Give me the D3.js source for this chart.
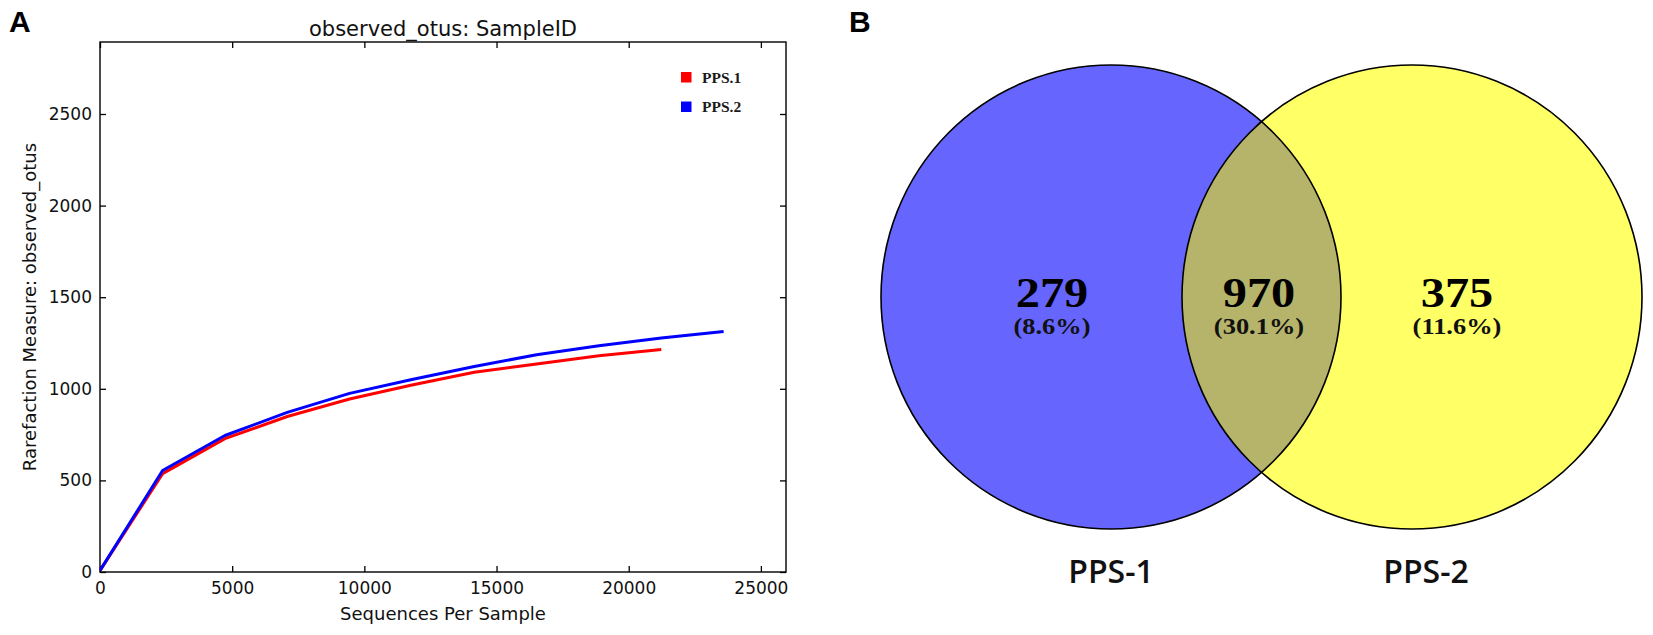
<!DOCTYPE html>
<html>
<head>
<meta charset="utf-8">
<script src="https://d3js.org/d3.v7.min.js"></script>
<style>
  body { margin: 0; background: #fff; }
  svg { display: block; }
</style>
</head>
<body>
<div id="viz"></div>
<script>

// rarefaction depths (sequences per sample)
var depths = [10, 2368, 4726, 7084, 9442, 11800, 14158, 16516, 18874, 21232, 23590];
// observed otus per sample
var pps1 = [10, 537, 728, 849, 944, 1021, 1090, 1135, 1181, 1215];
var pps2 = [10, 554, 745, 871, 975, 1051, 1122, 1186, 1235, 1277, 1313];
var seriesNames = ["PPS.1", "PPS.2"];
var seriesColors = ["#ff0000", "#0000ff"];
var xTicks = [0, 5000, 10000, 15000, 20000, 25000];
var yTicks = [0, 500, 1000, 1500, 2000, 2500];

// venn counts
var vennSets = ["PPS-1", "PPS-2"];
var vennCounts = [279, 970, 375];
var vennPercents = ["(8.6%)", "(30.1%)", "(11.6%)"];

var svg = d3.select("#viz")
    .append("svg")
    .attr("width", 1653)
    .attr("height", 635);

// ---------- panel A ----------
var m = {left: 100, top: 42, right: 786, bottom: 572};

var x = d3.scaleLinear().domain([0, 25950]).range([m.left, m.right]);
var y = d3.scaleLinear().domain([0, 2893]).range([m.bottom, m.top]);

var tickFont = "'DejaVu Sans', sans-serif";

var gx = svg.append("g")
    .attr("transform", "translate(0," + m.bottom + ")")
    .call(d3.axisBottom(x).tickValues(xTicks).tickSize(-6).tickPadding(10).tickFormat(d3.format("d")));
var gxTop = svg.append("g")
    .attr("transform", "translate(0," + m.top + ")")
    .call(d3.axisTop(x).tickValues(xTicks).tickSize(-6).tickFormat(""));
var gy = svg.append("g")
    .attr("transform", "translate(" + m.left + ",0)")
    .call(d3.axisLeft(y).tickValues(yTicks).tickSize(-6).tickPadding(8).tickFormat(d3.format("d")));
var gyRight = svg.append("g")
    .attr("transform", "translate(" + m.right + ",0)")
    .call(d3.axisRight(y).tickValues(yTicks).tickSize(-6).tickFormat(""));

[gx, gxTop, gy, gyRight].forEach(function(g){
    g.select(".domain").remove();
    g.selectAll(".tick line").attr("stroke", "#000").attr("stroke-width", 1.3);
    g.selectAll("text")
        .attr("fill", "#111")
        .style("font-family", tickFont)
        .style("font-size", "17px");
});

svg.append("rect")
    .attr("x", m.left)
    .attr("y", m.top)
    .attr("width", m.right - m.left)
    .attr("height", m.bottom - m.top)
    .attr("fill", "none")
    .attr("stroke", "#000")
    .attr("stroke-width", 1.4);

var line = d3.line()
    .x(function(d){ return x(d[0]); })
    .y(function(d){ return y(d[1]); });

[pps1, pps2].forEach(function(vals, i){
    var pts = vals.map(function(v, j){ return [depths[j], v]; });
    svg.append("path")
        .datum(pts)
        .attr("fill", "none")
        .attr("stroke", seriesColors[i])
        .attr("stroke-width", 3)
        .attr("stroke-linejoin", "round")
        .attr("d", line);
});

// legend
var legend = svg.selectAll(".legend")
    .data(seriesNames)
    .enter()
    .append("g")
    .attr("class", "legend")
    .attr("transform", function(d, i){ return "translate(681," + (72 + i * 29.5) + ")"; });
legend.append("rect")
    .attr("width", 10.5)
    .attr("height", 10.5)
    .attr("fill", function(d, i){ return seriesColors[i]; });
legend.append("text")
    .attr("x", 21)
    .attr("y", 10.5)
    .style("font-family", "'Liberation Serif', serif")
    .style("font-weight", "bold")
    .style("font-size", "15.5px")
    .attr("fill", "#1a1a1a")
    .text(function(d){ return d; });

svg.append("text")
    .attr("x", (m.left + m.right) / 2)
    .attr("y", 36)
    .attr("text-anchor", "middle")
    .style("font-family", tickFont)
    .style("font-size", "21px")
    .attr("fill", "#111")
    .text("observed_otus: SampleID");

svg.append("text")
    .attr("x", (m.left + m.right) / 2)
    .attr("y", 620)
    .attr("text-anchor", "middle")
    .style("font-family", tickFont)
    .style("font-size", "18px")
    .attr("fill", "#111")
    .text("Sequences Per Sample");

svg.append("text")
    .attr("transform", "translate(36," + ((m.top + m.bottom) / 2) + ") rotate(-90)")
    .attr("text-anchor", "middle")
    .style("font-family", tickFont)
    .style("font-size", "18px")
    .attr("fill", "#111")
    .text("Rarefaction Measure: observed_otus");

// panel letters
svg.selectAll(".panel")
    .data([["A", 9], ["B", 849]])
    .enter()
    .append("text")
    .attr("x", function(d){ return d[1]; })
    .attr("y", 32)
    .style("font-family", "'Liberation Sans', Arial, sans-serif")
    .style("font-weight", "bold")
    .style("font-size", "30px")
    .text(function(d){ return d[0]; });

// ---------- panel B ----------
var circles = [
    {cx: 1111, cy: 297, rx: 230, ry: 232, fill: "#6666ff"},
    {cx: 1412, cy: 297, rx: 230, ry: 232, fill: "#ffff66"}
];

svg.append("defs").append("clipPath")
    .attr("id", "clipLeft")
    .append("ellipse")
    .attr("cx", circles[0].cx).attr("cy", circles[0].cy)
    .attr("rx", circles[0].rx).attr("ry", circles[0].ry);

svg.selectAll(".venn")
    .data(circles)
    .enter()
    .append("ellipse")
    .attr("class", "venn")
    .attr("cx", function(d){ return d.cx; })
    .attr("cy", function(d){ return d.cy; })
    .attr("rx", function(d){ return d.rx; })
    .attr("ry", function(d){ return d.ry; })
    .attr("fill", function(d){ return d.fill; });

svg.append("ellipse")
    .attr("cx", circles[1].cx).attr("cy", circles[1].cy)
    .attr("rx", circles[1].rx).attr("ry", circles[1].ry)
    .attr("clip-path", "url(#clipLeft)")
    .attr("fill", "#b5b46a");

svg.selectAll(".vennEdge")
    .data(circles)
    .enter()
    .append("ellipse")
    .attr("class", "vennEdge")
    .attr("cx", function(d){ return d.cx; })
    .attr("cy", function(d){ return d.cy; })
    .attr("rx", function(d){ return d.rx; })
    .attr("ry", function(d){ return d.ry; })
    .attr("fill", "none")
    .attr("stroke", "#000")
    .attr("stroke-width", 1.6);

var labelX = [1052, 1259, 1457];
var serif = "'Liberation Serif', 'Times New Roman', serif";

svg.selectAll(".count")
    .data(vennCounts)
    .enter()
    .append("text")
    .attr("transform", function(d, i){ return "translate(" + labelX[i] + ",307) scale(1.15,1)"; })
    .attr("text-anchor", "middle")
    .style("font-family", serif)
    .style("font-weight", "bold")
    .style("font-size", "42px")
    .attr("fill", "#000")
    .text(function(d){ return d; });

svg.selectAll(".pct")
    .data(vennPercents)
    .enter()
    .append("text")
    .attr("transform", function(d, i){ return "translate(" + labelX[i] + ",334) scale(1.15,1)"; })
    .attr("text-anchor", "middle")
    .style("font-family", serif)
    .style("font-weight", "bold")
    .style("font-size", "23px")
    .attr("fill", "#111")
    .text(function(d){ return d; });

svg.selectAll(".setName")
    .data(vennSets)
    .enter()
    .append("text")
    .attr("x", function(d, i){ return [1111, 1426][i]; })
    .attr("y", 583)
    .attr("text-anchor", "middle")
    .style("font-family", "'Open Sans', sans-serif")
    .style("font-weight", 600)
    .style("font-size", "32px")
    .attr("fill", "#111")
    .text(function(d){ return d; });

</script>
</body>
</html>
